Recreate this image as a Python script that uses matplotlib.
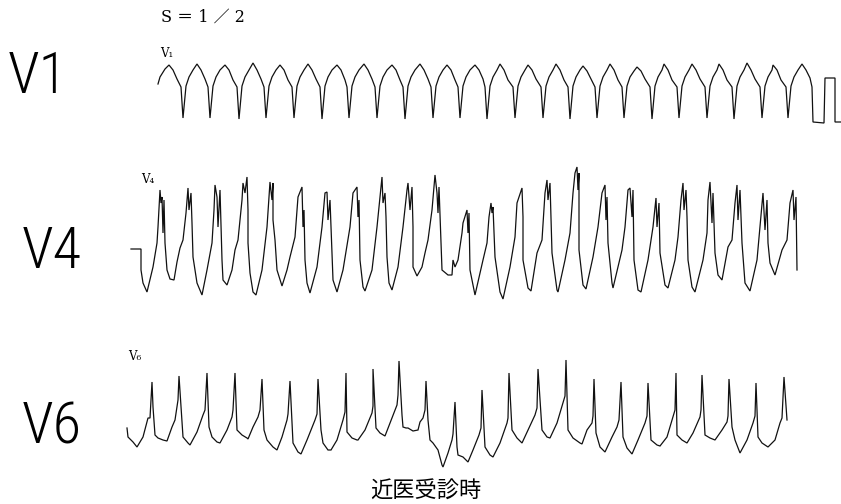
import matplotlib
matplotlib.use('Agg')
import matplotlib.pyplot as plt

# === LABELS ===
lead_names = ['V1', 'V4', 'V6']
small_labels = ['V₁', 'V₄', 'V₆']
scale_text = 'S ＝ 1 ／ 2'
caption = '近医受診時'

# === TRACES (pixel units: x right, y down) ===
v1_pts = [
    (158, 84), (160, 77), (165, 69),
    (169, 65), (173, 70), (177, 79), (181, 87), (183, 118), (186, 86), (189, 77), (193, 70),
    (197, 64), (201, 70), (205, 79), (208, 87), (210, 118), (213, 86), (216, 77), (220, 70),
    (225, 65), (229, 70), (233, 80), (237, 87), (239, 119), (242, 86), (245, 77), (249, 70),
    (253, 63), (257, 70), (261, 79), (264, 87), (266, 118), (269, 86), (272, 77), (276, 70),
    (280, 65), (284, 70), (288, 80), (292, 87), (294, 118), (297, 86), (300, 77), (304, 70),
    (308, 64), (312, 70), (316, 79), (320, 87), (322, 119), (325, 86), (328, 77), (332, 70),
    (337, 65), (341, 70), (345, 80), (347, 87), (349, 118), (352, 86), (355, 77), (359, 70),
    (364, 64), (368, 70), (372, 79), (375, 87), (377, 118), (380, 86), (383, 77), (387, 70),
    (392, 65), (396, 70), (400, 80), (403, 87), (405, 119), (408, 86), (411, 77), (415, 70),
    (420, 64), (424, 70), (428, 79), (431, 87), (433, 118), (436, 86), (439, 77), (443, 70),
    (447, 65), (451, 70), (455, 80), (458, 87), (460, 118), (463, 86), (466, 77), (470, 70),
    (475, 65), (479, 70), (483, 79), (485, 87), (487, 119), (490, 86), (493, 77), (497, 70),
    (500, 64), (504, 70), (508, 80), (513, 87), (515, 118), (518, 86), (521, 77), (525, 70),
    (528, 65), (532, 70), (536, 79), (541, 87), (543, 118), (546, 86), (549, 77), (553, 70),
    (556, 64), (560, 70), (564, 80), (568, 87), (570, 119), (573, 86), (576, 77), (580, 70),
    (583, 66), (587, 71), (591, 79), (595, 87), (597, 118), (600, 86), (603, 77), (607, 70),
    (610, 64), (614, 70), (618, 80), (622, 87), (624, 118), (627, 86), (630, 77), (634, 71),
    (637, 67), (641, 71), (645, 79), (650, 87), (652, 119), (655, 86), (658, 77), (662, 70),
    (664, 64), (668, 70), (672, 80), (677, 87), (679, 118), (682, 86), (685, 77), (689, 70),
    (692, 64), (696, 70), (700, 79), (705, 87), (707, 118), (710, 86), (713, 77), (717, 70),
    (719, 64), (723, 70), (727, 80), (732, 87), (734, 119), (737, 86), (740, 77), (744, 70),
    (747, 63), (751, 70), (755, 79), (760, 87), (762, 118), (765, 86), (768, 77), (772, 70),
    (773, 65), (777, 70), (781, 80), (786, 87), (788, 118), (791, 86), (794, 77), (798, 70),
    (802, 64), (806, 70), (810, 78), (812, 87), (813, 122), (824, 123), (825, 78), (835, 78),
    (835, 122), (841, 122),
]

v4_pts = [
    (131, 249), (141, 249), (141, 270), (143, 283), (147, 292),
    (153, 267), (157, 243), (158, 227), (160, 190), (161, 203), (162, 197), (163, 233), (164, 200),
    (165, 243), (167, 270), (170, 279), (174, 280),
    (177, 262), (180, 248), (183, 240), (186, 213), (188, 188), (189, 210), (191, 193), (192, 223),
    (193, 257), (197, 283), (202, 295),
    (207, 270), (212, 243), (214, 210), (215, 185), (217, 197), (218, 227), (220, 190), (221, 227),
    (222, 260), (223, 280), (227, 285),
    (232, 270), (235, 250), (238, 240), (242, 200), (243, 183), (245, 193), (247, 177), (248, 210),
    (248, 243), (250, 273), (253, 292), (256, 295),
    (262, 270), (267, 227), (270, 182), (272, 200), (273, 183), (273, 220), (275, 240), (277, 270),
    (282, 286),
    (287, 270), (290, 257), (295, 237), (298, 197), (302, 187), (303, 227), (304, 210), (305, 260),
    (307, 283), (310, 293),
    (317, 267), (322, 227), (325, 193), (327, 192), (328, 220), (330, 200), (332, 253), (333, 280),
    (337, 292),
    (343, 270), (350, 227), (353, 193), (357, 187), (358, 217), (359, 200), (360, 260), (363, 287),
    (365, 291),
    (372, 270), (377, 227), (382, 177), (383, 203), (385, 193), (386, 217), (387, 257), (389, 283),
    (392, 290),
    (398, 267), (403, 227), (407, 190), (408, 183), (410, 210), (412, 187), (413, 227), (413, 267),
    (417, 276),
    (422, 267), (425, 253), (428, 240), (432, 210), (435, 175), (437, 193), (438, 213), (439, 187),
    (441, 243), (442, 270), (448, 275), (452, 275),
    (453, 260), (455, 267), (458, 260), (462, 233), (463, 223), (467, 210), (468, 233), (469, 213),
    (470, 270), (475, 295),
    (483, 260), (487, 243), (489, 217), (491, 203), (492, 213), (493, 207), (494, 233), (495, 257),
    (500, 292), (503, 299),
    (510, 267), (515, 237), (517, 203), (522, 188), (523, 217), (523, 260), (528, 288), (531, 291),
    (537, 253), (542, 240), (545, 193), (547, 180), (548, 200), (550, 183), (551, 220), (552, 253),
    (557, 290), (558, 292),
    (565, 260), (570, 233), (573, 193), (575, 173), (577, 167), (578, 190), (579, 173), (579, 250),
    (583, 285), (586, 289),
    (593, 257), (598, 227), (602, 193), (605, 185), (606, 220), (607, 197), (608, 243), (612, 283),
    (613, 288),
    (622, 250), (625, 227), (628, 190), (630, 188), (632, 217), (633, 190), (634, 260), (638, 290),
    (641, 292),
    (648, 260), (653, 227), (656, 198), (657, 227), (659, 203), (660, 253), (665, 285), (668, 288),
    (675, 260), (678, 237), (681, 200), (683, 183), (684, 210), (686, 190), (687, 217), (688, 260),
    (692, 287), (695, 292),
    (703, 260), (707, 233), (708, 200), (710, 182), (712, 223), (713, 193), (715, 253), (718, 275),
    (722, 280),
    (728, 247), (732, 240), (735, 203), (737, 185), (738, 220), (740, 190), (742, 243), (745, 283),
    (750, 291),
    (757, 260), (760, 227), (763, 193), (765, 230), (767, 200), (768, 243), (770, 263), (775, 275),
    (782, 250), (787, 240), (790, 203), (793, 190), (794, 220), (796, 197), (797, 270),
]

v6_pts = [
    (127, 428), (128, 437), (133, 442), (137, 447), (143, 437), (148, 418), (150, 418), (152, 382),
    (153, 407), (155, 435), (158, 438), (163, 440), (167, 441),
    (172, 427), (175, 420), (178, 400), (179, 376), (182, 423), (183, 437), (188, 443), (190, 445),
    (197, 432), (203, 415), (205, 410), (207, 373), (209, 427), (212, 437), (217, 442), (220, 443),
    (227, 430), (232, 417), (233, 410), (235, 373), (237, 430), (242, 435), (247, 438), (248, 439),
    (253, 427), (258, 417), (260, 410), (262, 379), (264, 430), (267, 440), (273, 447), (277, 450),
    (282, 437), (287, 420), (288, 414), (290, 381), (292, 423), (293, 443), (298, 452), (301, 454),
    (307, 440), (315, 420), (317, 414), (318, 379), (321, 430), (323, 443), (328, 450), (331, 450),
    (337, 440), (343, 420), (345, 412), (346, 373), (347, 432), (352, 438), (357, 440), (358, 440),
    (365, 430), (372, 413), (373, 406), (373, 369), (376, 428), (380, 433), (385, 436),
    (392, 418), (397, 405), (398, 395), (399, 361), (402, 415), (403, 427), (406, 428), (408, 428),
    (413, 431), (418, 430), (420, 422), (423, 418), (425, 410), (426, 381), (428, 420), (430, 440),
    (433, 443), (438, 450), (442, 465), (443, 467),
    (448, 453), (452, 440), (453, 434), (455, 402), (457, 447), (458, 455), (463, 457), (468, 462),
    (473, 450), (479, 435), (481, 428), (482, 390), (485, 447), (490, 455), (493, 457),
    (500, 443), (507, 423), (508, 418), (509, 373), (512, 430), (517, 438), (522, 443),
    (528, 430), (535, 415), (537, 408), (538, 369), (542, 430), (547, 437), (550, 438),
    (557, 423), (563, 403), (565, 396), (566, 360), (568, 430), (573, 438), (580, 443), (582, 444),
    (587, 430), (592, 423), (593, 416), (594, 379), (596, 433), (600, 447), (605, 452),
    (612, 437), (617, 427), (619, 420), (621, 382), (623, 437), (627, 448), (632, 454),
    (638, 440), (645, 423), (647, 416), (648, 383), (651, 440), (657, 445), (660, 446),
    (667, 437), (673, 417), (675, 410), (676, 373), (677, 435), (682, 440), (687, 443),
    (693, 433), (700, 417), (701, 410), (702, 375), (705, 435), (710, 438), (715, 440),
    (722, 430), (727, 422), (728, 416), (729, 379), (732, 427), (735, 440), (740, 453),
    (747, 440), (753, 423), (755, 416), (756, 383), (758, 437), (762, 443), (768, 447),
    (775, 440), (780, 423), (782, 418), (784, 377), (787, 420),
]

traces = [v1_pts, v4_pts, v6_pts]

# === FIGURE ===
fig = plt.figure(figsize=(8.41, 5.04), dpi=100)
ax = fig.add_axes([0, 0, 1, 1])
ax.set_xlim(0, 841)
ax.set_ylim(504, 0)
ax.axis('off')

for pts in traces:
    xs = [p[0] for p in pts]
    ys = [p[1] for p in pts]
    ax.plot(xs, ys, color='#111111', lw=0.9, solid_joinstyle='miter')

# big lead names on the left (narrow face if one is around)
big_font = ['Liberation Sans Narrow', 'Roboto Condensed', 'DejaVu Sans Condensed', 'Roboto']
for name, x, y in zip(lead_names, [8, 22, 22], [93, 268, 443]):
    ax.text(x, y, name, fontsize=42, family=big_font, fontstretch='condensed',
            fontweight='light', va='baseline')

# small lead tags printed on the strip
for tag, x, y in zip(small_labels, [160, 141, 128], [57, 183, 360]):
    ax.text(x, y, tag, fontsize=8.5, family='DejaVu Serif', va='baseline')

ax.text(161, 22, scale_text, fontsize=11.5, family=['DejaVu Serif', 'Noto Sans CJK JP'],
        va='baseline')
ax.text(426, 491, caption, fontsize=16, family=['Noto Sans CJK JP', 'DejaVu Sans'],
        ha='center', va='center')

fig.savefig('out.png', dpi=100)
